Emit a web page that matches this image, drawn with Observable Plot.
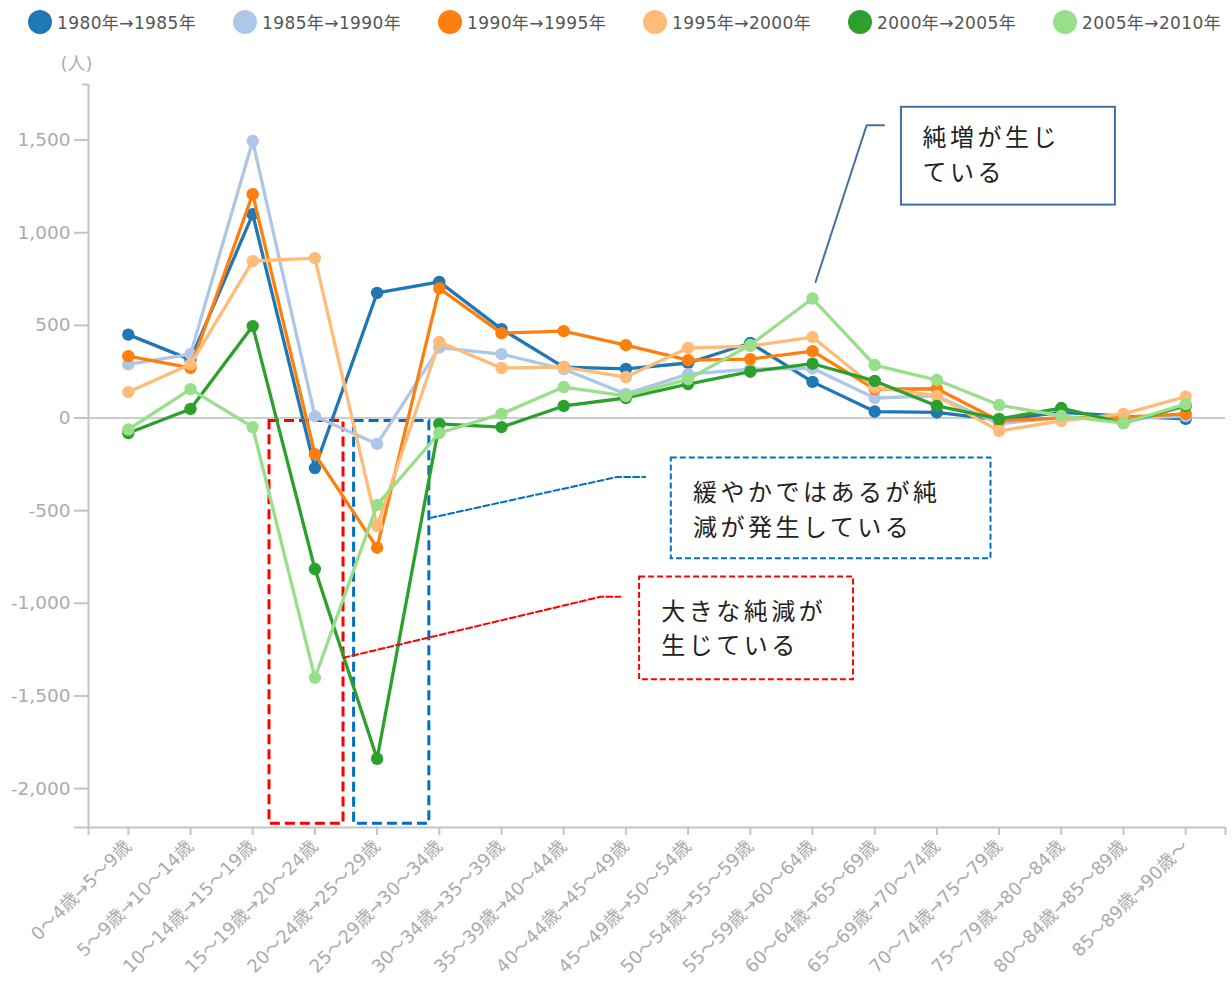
<!DOCTYPE html>
<html><head><meta charset="utf-8">
<script src="https://cdn.jsdelivr.net/npm/d3@7"></script>
<script src="https://cdn.jsdelivr.net/npm/@observablehq/plot@0.6"></script>
<style>
body{margin:0;background:#fff;font-family:"DejaVu Sans","Noto Sans CJK JP",sans-serif;}
#legend{height:44px;position:relative;}
.item{position:absolute;top:9px;display:flex;align-items:center;font-size:17px;color:#555;letter-spacing:0.4px;white-space:nowrap;}
.sw{width:24px;height:24px;border-radius:50%;margin-right:5px;}
svg g[font-family="Noto Sans CJK JP"] text{letter-spacing:3.5px;}
</style></head><body>
<div id="legend"></div><div id="chart"></div>
<script>
// ---- data ----
const categories = ["0～4歳→5～9歳","5～9歳→10～14歳","10～14歳→15～19歳","15～19歳→20～24歳","20～24歳→25～29歳","25～29歳→30～34歳","30～34歳→35～39歳","35～39歳→40～44歳","40～44歳→45～49歳","45～49歳→50～54歳","50～54歳→55～59歳","55～59歳→60～64歳","60～64歳→65～69歳","65～69歳→70～74歳","70～74歳→75～79歳","75～79歳→80～84歳","80～84歳→85～89歳","85～89歳→90歳～"];
const periods = ["1980年→1985年","1985年→1990年","1990年→1995年","1995年→2000年","2000年→2005年","2005年→2010年"];
const colors = ["#1f77b4","#aec7e8","#ff7f0e","#ffbb78","#2ca02c","#98df8a"];
const v1980 = [450, 315, 1100, -270, 675, 735, 480, 275, 265, 297, 405, 195, 35, 30, -10, 30, 10, -5];
const v1985 = [290, 345, 1495, 10, -140, 380, 345, 264, 130, 237, 264, 268, 108, 119, -32, 5, -5, 10];
const v1990 = [334, 270, 1208, -195, -700, 700, 458, 469, 393, 312, 318, 361, 156, 158, -15, 0, 5, 22];
const v1995 = [140, 290, 847, 863, -583, 410, 270, 275, 221, 378, 388, 437, 165, 119, -70, -16, 22, 115];
const v2000 = [-81, 49, 496, -815, -1839, -32, -49, 65, 108, 183, 250, 293, 200, 65, -5, 54, -27, 65];
const v2005 = [-62, 156, -49, -1402, -469, -81, 22, 167, 119, 210, 394, 645, 286, 205, 70, 11, -27, 75];
const yTicks = [-2000, -1500, -1000, -500, 0, 500, 1000, 1500];
const unitLabel = "(人)";

// ---- annotations ----
const annoTexts = [
  {x: 12.77, y: 1432, text: "純増が生じ\nている"},
  {x: 9.08, y: -482, text: "緩やかではあるが純\n減が発生している"},
  {x: 8.57, y: -1122, text: "大きな純減が\n生じている"}
];

const seriesValues = [v1980, v1985, v1990, v1995, v2000, v2005];
const rows = periods.flatMap((p, s) => seriesValues[s].map((v, i) => ({period: p, s, i, v})));

// legend
const lg = document.getElementById("legend");
periods.forEach((p, k) => {
  const d = document.createElement("div");
  d.className = "item";
  d.style.left = (28 + k * 205) + "px";
  d.innerHTML = `<span class="sw" style="background:${colors[k]}"></span><span>${p}</span>`;
  lg.appendChild(d);
});

const xDomain = [-0.64, 17.64], yDomain = [-2210, 1800];
const axisColor = "#c4c4c4", labelColor = "#ababab";

const marks = [
  Plot.ruleY([0], {stroke: "#cccccc", strokeWidth: 2}),
  Plot.ruleX([xDomain[0]], {stroke: axisColor, strokeWidth: 2}),
  Plot.ruleY([yDomain[0]], {stroke: axisColor, strokeWidth: 2}),
  Plot.axisY({ticks: yTicks, tickSize: 14, tickPadding: 4, tickFormat: d => d.toLocaleString("en-US"), fontSize: 18.5, fill: labelColor, stroke: axisColor, strokeWidth: 2, label: null}),
  Plot.axisY({ticks: [yDomain[0]], tickSize: 14, tickFormat: () => "", stroke: axisColor, strokeWidth: 2, label: null}),
  Plot.axisY({ticks: [yDomain[1]], tickSize: 6, tickFormat: () => "", stroke: axisColor, strokeWidth: 2, label: null}),
  Plot.axisX({ticks: d3.range(categories.length), tickFormat: i => categories[i], tickRotate: -45, tickSize: 8, tickPadding: 8, fontSize: 18, fill: labelColor, stroke: axisColor, strokeWidth: 2, label: null}),
  Plot.axisX({ticks: xDomain, tickFormat: () => "", tickSize: 8, stroke: axisColor, strokeWidth: 2, label: null}),
  Plot.text([unitLabel], {frameAnchor: "top-left", dx: -28, dy: -27, fill: labelColor, fontSize: 18}),
  // highlight rectangles
  Plot.rect([{x1: 2.27, x2: 3.46, y1: -16, y2: -2190}], {x1: "x1", x2: "x2", y1: "y1", y2: "y2", fill: "none", stroke: "#ff0000", strokeWidth: 3, strokeDasharray: "10,5"}),
  Plot.rect([{x1: 3.63, x2: 4.84, y1: -16, y2: -2190}], {x1: "x1", x2: "x2", y1: "y1", y2: "y2", fill: "none", stroke: "#0070c0", strokeWidth: 3, strokeDasharray: "10,5"}),
];

periods.forEach((p, s) => {
  const d = rows.filter(r => r.s === s);
  marks.push(Plot.line(d, {x: "i", y: "v", stroke: "period", strokeWidth: 3.3}));
  marks.push(Plot.dot(d, {x: "i", y: "v", fill: "period", r: 6.2}));
});

marks.push(
  // leaders
  Plot.line([{x: 11.05, y: 734}, {x: 11.87, y: 1580}, {x: 12.15, y: 1580}], {x: "x", y: "y", stroke: "#44709a", strokeWidth: 2}),
  Plot.line([{x: 4.86, y: -539}, {x: 7.86, y: -318}, {x: 8.31, y: -318}], {x: "x", y: "y", stroke: "#0070c0", strokeWidth: 2, strokeDasharray: "6,3"}),
  Plot.line([{x: 3.46, y: -1294}, {x: 7.59, y: -965}, {x: 7.91, y: -965}], {x: "x", y: "y", stroke: "#ff0000", strokeWidth: 2, strokeDasharray: "6,3"}),
  // boxes
  Plot.rect([{x1: 12.43, x2: 15.87, y1: 1677, y2: 1149}], {x1: "x1", x2: "x2", y1: "y1", y2: "y2", fill: "white", stroke: "#41719c", strokeWidth: 2}),
  Plot.rect([{x1: 8.73, x2: 13.87, y1: -216, y2: -760}], {x1: "x1", x2: "x2", y1: "y1", y2: "y2", fill: "white", stroke: "#0070c0", strokeWidth: 2, strokeDasharray: "6,3"}),
  Plot.rect([{x1: 8.22, x2: 11.66, y1: -858, y2: -1413}], {x1: "x1", x2: "x2", y1: "y1", y2: "y2", fill: "white", stroke: "#ff0000", strokeWidth: 2, strokeDasharray: "6,3"}),
  Plot.text(annoTexts, {x: "x", y: "y", text: "text", textAnchor: "start", lineAnchor: "middle", lineHeight: 1.45, fontSize: 24, fill: "#222", fontFamily: "Noto Sans CJK JP"})
);

const chart = Plot.plot({
  width: 1232, height: 938,
  marginTop: 40, marginBottom: 155, marginLeft: 88, marginRight: 7,
  style: {fontFamily: '"DejaVu Sans","Noto Sans CJK JP",sans-serif', background: "#fff"},
  x: {type: "linear", domain: xDomain, axis: null},
  y: {domain: yDomain, axis: null},
  color: {domain: periods, range: colors},
  marks
});
document.getElementById("chart").appendChild(chart);
</script>
</body></html>
